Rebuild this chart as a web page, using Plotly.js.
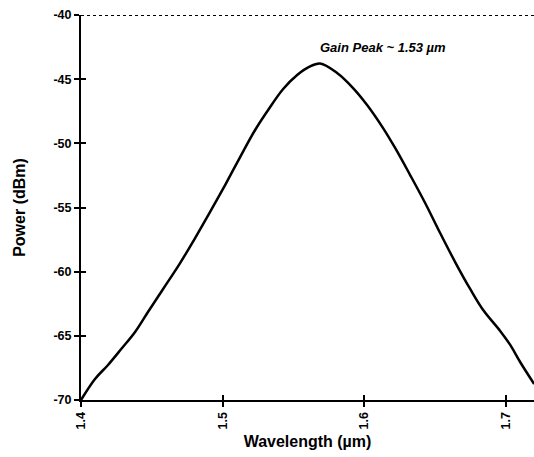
<!DOCTYPE html>
<html>
<head>
<meta charset="utf-8">
<script src="https://cdn.plot.ly/plotly-3.0.1.min.js"></script>
<style>html,body{margin:0;padding:0;background:#fff;}#chart{width:534px;height:457px;}</style>
</head>
<body>
<div id="chart"></div>
<script>
var wavelength = [1.4000, 1.4099, 1.4191, 1.4290, 1.4382, 1.4473, 1.4580, 1.4700, 1.4806, 1.4912, 1.5018, 1.5124, 1.5230, 1.5322, 1.5428, 1.5527, 1.5611, 1.5689, 1.5809, 1.5922, 1.6021, 1.6134, 1.6219, 1.6325, 1.6431, 1.6537, 1.6643, 1.6749, 1.6841, 1.6961, 1.7032, 1.7102, 1.7201];
var power = [-70.00, -68.36, -67.27, -65.95, -64.70, -63.14, -61.35, -59.33, -57.38, -55.35, -53.25, -51.07, -48.96, -47.40, -45.77, -44.68, -44.05, -43.78, -44.52, -45.69, -47.01, -48.81, -50.36, -52.47, -54.65, -56.99, -59.25, -61.35, -62.99, -64.62, -65.71, -67.04, -68.75];
var yTickVals = [-70, -65, -60, -55, -50, -45, -40];
var yTickText = ["-70", "-65", "-60", "-55", "-50", "-45", "-40"];
var xTickVals = [1.4, 1.5, 1.6, 1.7];
var xTickText = ["1.4", "1.5", "1.6", "1.7"];
var annText = "Gain Peak ~ 1.53 \u00b5m";
var annX = 1.613, annY = -42.5;

var F = "Liberation Sans, Arial, sans-serif";
var data = [
  {x: wavelength, y: power, type: "scatter", mode: "lines", line: {color: "#000", width: 2.5, shape: "spline", smoothing: 1}, hoverinfo: "none"},
  {x: [1.5], y: [-60], xaxis: "x2", yaxis: "y2", type: "scatter", mode: "markers", marker: {opacity: 0}, hoverinfo: "none", showlegend: false}
];
var layout = {
  width: 534, height: 457,
  margin: {l: 81, r: 0, t: 15, b: 57},
  paper_bgcolor: "#fff", plot_bgcolor: "#fff",
  showlegend: false,
  xaxis: {
    range: [1.4, 1.72], tickvals: xTickVals, ticktext: xTickText, tickangle: -90,
    showline: true, linecolor: "#000", linewidth: 2, ticks: "outside", ticklen: 5, tickwidth: 2, tickcolor: "#000",
    showgrid: false, zeroline: false, tickfont: {family: F, size: 12.5, color: "#000", weight: "bold"},
    title: {text: "<b>Wavelength (\u00b5m)</b>", font: {family: F, size: 16, color: "#000"}, standoff: 7}
  },
  yaxis: {
    range: [-70, -40], tickvals: yTickVals, ticktext: yTickText,
    showline: true, linecolor: "#000", linewidth: 2, ticks: "outside", ticklen: 5, tickwidth: 2, tickcolor: "#000",
    showgrid: false, zeroline: false, tickfont: {family: F, size: 12.5, color: "#000", weight: "bold"},
    title: {text: "<b>Power (dBm)</b>", font: {family: F, size: 16, color: "#000"}, standoff: 24}
  },
  xaxis2: {overlaying: "x", matches: "x", range: [1.4, 1.72], tickvals: xTickVals, ticks: "inside", ticklen: 5, tickwidth: 2, tickcolor: "#000", showticklabels: false, showgrid: false, zeroline: false, showline: false},
  yaxis2: {overlaying: "y", matches: "y", range: [-70, -40], tickvals: yTickVals, ticks: "inside", ticklen: 5, tickwidth: 2, tickcolor: "#000", showticklabels: false, showgrid: false, zeroline: false, showline: false},
  shapes: [{type: "line", xref: "paper", yref: "y", x0: 0, x1: 1, y0: -40, y1: -40, line: {color: "#000", width: 2, dash: "dot"}}],
  annotations: [{x: annX, y: annY, xref: "x", yref: "y", text: "<b><i>" + annText + "</i></b>", showarrow: false, font: {family: F, size: 13, color: "#000"}}]
};
Plotly.newPlot("chart", data, layout, {displayModeBar: false, staticPlot: true});
</script>
</body>
</html>
